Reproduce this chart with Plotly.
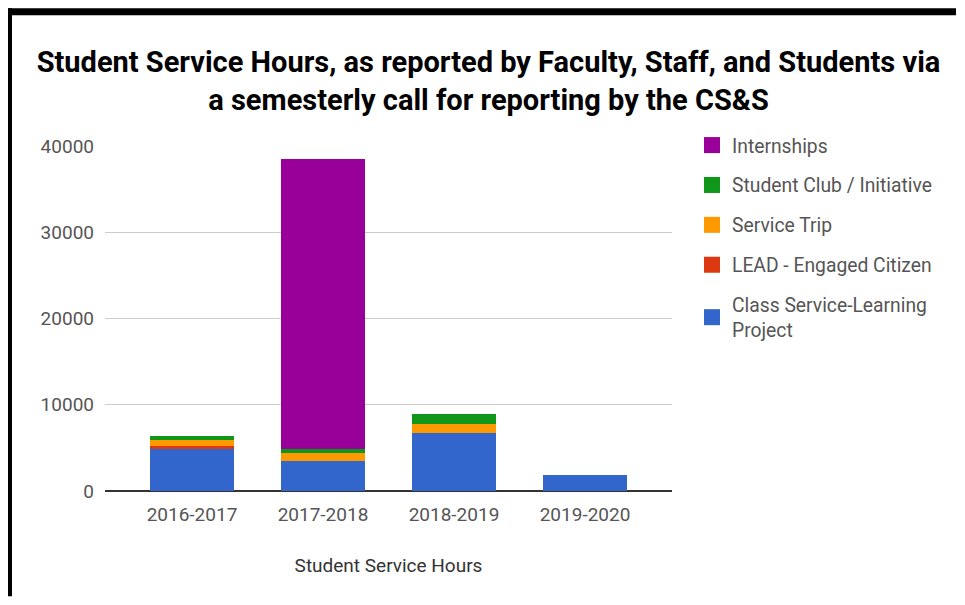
import plotly.graph_objects as go

categories = ["2016-2017", "2017-2018", "2018-2019", "2019-2020"]
class_service = [4850, 3510, 6700, 1910]
lead_engaged = [380, 0, 0, 0]
service_trip = [700, 930, 1080, 0]
student_club = [460, 390, 1160, 0]
internships = [0, 33700, 0, 0]

series_names = ["Class Service-Learning<br>Project", "LEAD - Engaged Citizen",
                "Service Trip", "Student Club / Initiative", "Internships"]
series_values = [class_service, lead_engaged, service_trip, student_club, internships]
colors = ["#3366cc", "#dc3912", "#ff9900", "#109618", "#990099"]

# page has an 8px body margin; keep the figure small enough to avoid scrollbars
W, H = 949, 589
L, R, T, B = 97, 664, 138, 483.5

fig = go.Figure()
for name, vals, col in zip(series_names, series_values, colors):
    fig.add_trace(go.Bar(x=categories, y=vals, name=name, marker_color=col,
                         marker_line_width=0, showlegend=False))
# legend entries (top to bottom order)
for name, col in reversed(list(zip(series_names, colors))):
    fig.add_trace(go.Scatter(x=[None], y=[None], mode="markers", name=name,
                             legendgroup=name,
                             marker=dict(symbol="square", size=16, color=col)))

def px_x(p):
    return (p - L) / (R - L)

def px_y(p):
    return (B - p) / (B - T)

# black frame: top bar and left bar
fig.add_shape(type="rect", xref="paper", yref="paper", x0=px_x(0), x1=px_x(W - 1),
              y0=px_y(7), y1=px_y(0), fillcolor="black", line_width=0, layer="below")
fig.add_shape(type="rect", xref="paper", yref="paper", x0=px_x(0), x1=px_x(4),
              y0=px_y(H), y1=px_y(0), fillcolor="black", line_width=0, layer="below")

fig.update_layout(
    width=W, height=H,
    margin=dict(l=L, r=W - R, t=T, b=H - B, pad=0),
    paper_bgcolor="rgba(0,0,0,0)", plot_bgcolor="rgba(0,0,0,0)",
    barmode="stack", bargap=0.36,
    font=dict(family="Roboto", color="#555555"),
    title=dict(text="Student Service Hours, as reported by Faculty, Staff, and Students via<br>a semesterly call for reporting by the CS&S",
               font=dict(family="Roboto", size=29, color="#000000", weight="bold"),
               x=480.5 / W, xanchor="center", y=1 - 64 / H, yanchor="middle"),
    legend=dict(x=px_x(684), xanchor="left", y=px_y(118), yanchor="top",
                font=dict(size=19.3, color="#555555"), traceorder="grouped",
                tracegroupgap=11.8, bgcolor="rgba(0,0,0,0)"),
    xaxis=dict(range=[-0.664, 3.664], showgrid=False, showline=False, zeroline=False,
               ticks="", tickfont=dict(size=19, color="#555555"),
               ticklabelstandoff=10,
               title=dict(text="Student Service Hours", standoff=33,
                          font=dict(size=19, color="#333333"))),
    yaxis=dict(range=[0, 40000], tickvals=[0, 10000, 20000, 30000, 40000],
               ticktext=["0", "10000", "20000", "30000", "40000"],
               showgrid=True, gridcolor="#cccccc", gridwidth=1,
               zeroline=True, zerolinecolor="#333333", zerolinewidth=2,
               showline=False, ticks="", tickfont=dict(size=19, color="#555555"),
               ticklabelstandoff=10),
)

fig.write_html("out.html")
